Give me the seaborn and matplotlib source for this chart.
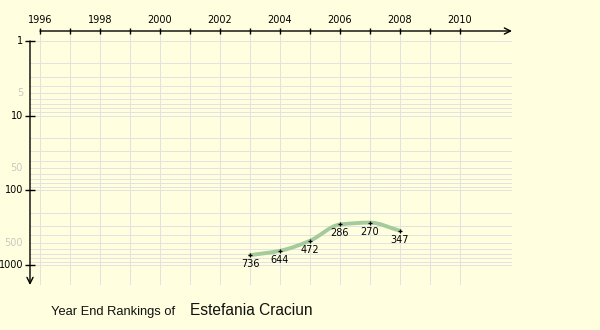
import numpy as np
import pandas as pd
import matplotlib
matplotlib.use("Agg")
import matplotlib.pyplot as plt
from matplotlib.path import Path
from matplotlib.patches import PathPatch
import seaborn as sns

# Year-end singles rankings
years = [2003, 2004, 2005, 2006, 2007, 2008]
ranks = [736, 644, 472, 286, 270, 347]

tick_years = list(range(1996, 2011))
label_years = list(range(1996, 2011, 2))
major_ranks = [1, 10, 100, 1000]
minor_rank_labels = [5, 50, 500]
grid_ranks = [m * 10 ** k for k in range(3) for m in range(1, 10)] + [1000]

player = "Estefania Craciun"
caption = "Year End Rankings of"

BG = "#ffffe0"
GRID = "#e2e2e0"
LINE = "#a3cb9b"

sns.set_theme(style="white")
plt.rcParams["font.family"] = ["DejaVu Sans"]

W, H = 600, 330
fig = plt.figure(figsize=(W / 100, H / 100), dpi=100, facecolor=BG)
ax_left, ax_right, ax_top, ax_bottom = 30, 512, 31, 285
ax = fig.add_axes([ax_left / W, 1 - ax_bottom / H,
                   (ax_right - ax_left) / W, (ax_bottom - ax_top) / H])
ax.set_axis_off()

px_per_year = 30.0
px_per_decade = 74.7
x0 = 1996 - (40 - ax_left) / px_per_year
x1 = 1996 + (ax_right - 40) / px_per_year
y_top = 10 ** ((ax_top - 41) / px_per_decade)
y_bot = 10 ** ((ax_bottom - 41) / px_per_decade)
ax.set_yscale("log")
ax.set_xlim(x0, x1)
ax.set_ylim(y_bot, y_top)

# grid, drawn as crisp one-pixel lines
for r in grid_ranks:
    ax.axhline(r, color=GRID, lw=0.6, zorder=0, antialiased=False)
for yr in tick_years:
    ax.axvline(yr, color=GRID, lw=0.6, zorder=0, antialiased=False)

# axes with arrows
ax.annotate("", xy=(x1, y_top), xytext=(1996, y_top),
            arrowprops=dict(arrowstyle="->", lw=1.0, color="black",
                            mutation_scale=11, shrinkA=0, shrinkB=0),
            annotation_clip=False)
ax.annotate("", xy=(x0, y_bot), xytext=(x0, 1),
            arrowprops=dict(arrowstyle="->", lw=1.0, color="black",
                            mutation_scale=11, shrinkA=0, shrinkB=0),
            annotation_clip=False)

hpx = ax_bottom - ax_top
wpx = ax_right - ax_left
ax.vlines(tick_years, 1 - 3 / hpx, 1 + 3 / hpx, color="black", lw=1.0,
          transform=ax.get_xaxis_transform(), clip_on=False)
for yr in label_years:
    ax.text(yr, 1 + 11 / hpx, str(yr), transform=ax.get_xaxis_transform(),
            ha="center", va="center", fontsize=7, color="black")

ax.hlines(major_ranks, -5 / wpx, 5 / wpx, color="black", lw=1.0,
          transform=ax.get_yaxis_transform(), clip_on=False)
for r in major_ranks:
    ax.text(-7 / wpx, r, str(r), transform=ax.get_yaxis_transform(),
            ha="right", va="center", fontsize=7, color="black")
for r in minor_rank_labels:
    ax.text(-7 / wpx, r, str(r), transform=ax.get_yaxis_transform(),
            ha="right", va="center", fontsize=7, color="#c8c8c0")

# smooth ranking curve: monotone cubic (Fritsch-Carlson) in year / log-rank
# space, written as Bezier segments so the path passes through every point
lx = np.array(years, dtype=float)
ly = np.log10(np.array(ranks, dtype=float))
h = np.diff(lx)
d = np.diff(ly) / h
m = np.zeros_like(ly)
m[0], m[-1] = d[0], d[-1]
for i in range(1, len(ly) - 1):
    if d[i - 1] * d[i] > 0:
        m[i] = 2.0 / (1.0 / d[i - 1] + 1.0 / d[i])
verts = [(lx[0], ly[0])]
codes = [Path.MOVETO]
for i in range(len(lx) - 1):
    verts += [(lx[i] + h[i] / 3, ly[i] + m[i] * h[i] / 3),
              (lx[i + 1] - h[i] / 3, ly[i + 1] - m[i + 1] * h[i] / 3),
              (lx[i + 1], ly[i + 1])]
    codes += [Path.CURVE4] * 3
verts = np.array(verts)
verts[:, 1] = 10 ** verts[:, 1]
ax.add_patch(PathPatch(Path(verts, codes), facecolor="none", edgecolor=LINE,
                       lw=2.8, capstyle="round", zorder=3))

df = pd.DataFrame({"year": years, "rank": ranks})
sns.scatterplot(data=df, x="year", y="rank", marker="+", s=7, color="black",
                linewidth=0.9, zorder=4, ax=ax, legend=False)
ax.set_axis_off()
for yr, r in zip(years, ranks):
    ax.annotate(str(r), (yr, r), xytext=(0, -9), textcoords="offset pixels",
                ha="center", va="center", fontsize=7, color="black", zorder=5)

fig.text(51 / W, 1 - 315 / H, caption, fontsize=9.3, family="Liberation Sans",
         ha="left", va="baseline", color="#111111")
fig.text(190 / W, 1 - 315 / H, player, fontsize=11.2, family="Liberation Sans",
         ha="left", va="baseline", color="#111111")

fig.savefig("out.png", dpi=100, facecolor=BG)
